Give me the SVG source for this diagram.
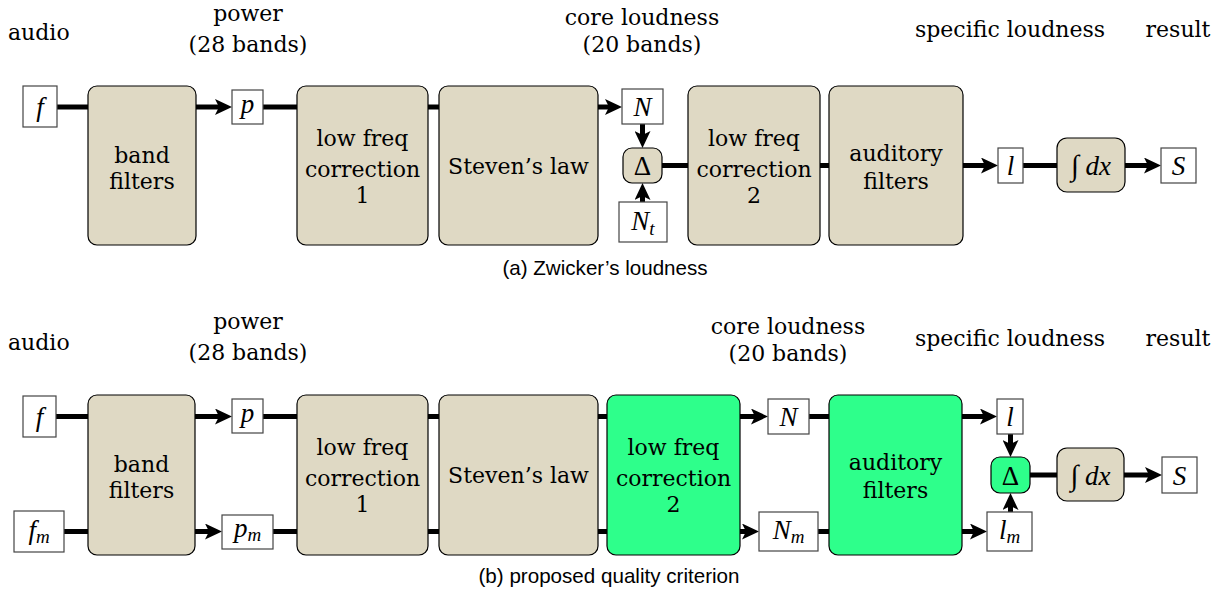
<svg xmlns="http://www.w3.org/2000/svg" width="1226" height="593" viewBox="0 0 1226 593">
<style>
.lbl{font-family:"DejaVu Serif","Liberation Serif",serif;font-size:22px;fill:#000;text-anchor:middle}
.lbll{font-family:"DejaVu Serif","Liberation Serif",serif;font-size:22px;fill:#000}
.cap{font-family:"Liberation Sans",Arial,sans-serif;font-size:20.6px;fill:#000;text-anchor:middle}
.math{font-family:"Liberation Serif","DejaVu Serif",serif;font-style:italic;font-size:27px;fill:#000;text-anchor:middle}
.up{font-style:normal}
.sub{font-size:19px}
.blk{fill:#DFD9C4;stroke:#000;stroke-width:1.2}
.grn{fill:#2EFF8B;stroke:#000;stroke-width:1.2}
.var{fill:#fff;stroke:#444;stroke-width:1.2}
.ln{stroke:#000;stroke-width:5;fill:none}
.ar{stroke:#000;stroke-width:5;fill:none;marker-end:url(#ah)}
</style>
<defs>
<marker id="ah" markerUnits="userSpaceOnUse" viewBox="0 -8 17 16" refX="9" refY="0" markerWidth="17" markerHeight="16" orient="auto">
<path d="M0,-8 L17,0 L0,8 L4,0 z" fill="#000"/>
</marker>
</defs>

<g id="labels-a">
<text class="lbll" x="8" y="40">audio</text>
<text class="lbl" x="248" y="21">power</text>
<text class="lbl" x="248" y="52">(28 bands)</text>
<text class="lbl" x="642" y="25">core loudness</text>
<text class="lbl" x="642" y="52">(20 bands)</text>
<text class="lbl" x="1010" y="37">specific loudness</text>
<text class="lbl" x="1178" y="37">result</text>
<text class="cap" x="605" y="275">(a) Zwicker’s loudness</text>
</g>
<g id="labels-b">
<text class="lbll" x="8" y="350">audio</text>
<text class="lbl" x="248" y="329">power</text>
<text class="lbl" x="248" y="360">(28 bands)</text>
<text class="lbl" x="788" y="334">core loudness</text>
<text class="lbl" x="788" y="361">(20 bands)</text>
<text class="lbl" x="1010" y="346">specific loudness</text>
<text class="lbl" x="1178" y="346">result</text>
<text class="cap" x="609" y="583">(b) proposed quality criterion</text>
</g>

<g id="connectors">
<line class="ln" x1="57" y1="107" x2="88" y2="107"/>
<line class="ar" x1="196" y1="107" x2="224" y2="107"/>
<line class="ln" x1="263" y1="107" x2="297" y2="107"/>
<line class="ln" x1="428" y1="107" x2="439" y2="107"/>
<line class="ar" x1="598" y1="107" x2="614" y2="107"/>
<line class="ar" x1="642.5" y1="124" x2="642.5" y2="140"/>
<line class="ar" x1="642.5" y1="202" x2="642.5" y2="191"/>
<line class="ln" x1="662" y1="165.5" x2="688" y2="165.5"/>
<line class="ln" x1="820" y1="165.5" x2="829" y2="165.5"/>
<line class="ar" x1="963" y1="165.5" x2="990" y2="165.5"/>
<line class="ln" x1="1023" y1="165.5" x2="1057" y2="165.5"/>
<line class="ar" x1="1125" y1="165.5" x2="1153" y2="165.5"/>
<line class="ln" x1="56" y1="416.5" x2="88" y2="416.5"/>
<line class="ln" x1="64" y1="531.5" x2="88" y2="531.5"/>
<line class="ar" x1="195" y1="416.5" x2="224" y2="416.5"/>
<line class="ar" x1="195" y1="531.5" x2="214" y2="531.5"/>
<line class="ln" x1="263" y1="416.5" x2="297" y2="416.5"/>
<line class="ln" x1="273" y1="531.5" x2="297" y2="531.5"/>
<line class="ln" x1="428" y1="416.5" x2="439" y2="416.5"/>
<line class="ln" x1="428" y1="531.5" x2="439" y2="531.5"/>
<line class="ln" x1="598" y1="416.5" x2="607" y2="416.5"/>
<line class="ln" x1="598" y1="531.5" x2="607" y2="531.5"/>
<line class="ar" x1="740" y1="416.5" x2="760" y2="416.5"/>
<line class="ar" x1="740" y1="531.5" x2="751" y2="531.5"/>
<line class="ln" x1="809" y1="416.5" x2="829" y2="416.5"/>
<line class="ln" x1="818" y1="531.5" x2="829" y2="531.5"/>
<line class="ar" x1="962" y1="416.5" x2="989" y2="416.5"/>
<line class="ar" x1="962" y1="531.5" x2="979" y2="531.5"/>
<line class="ar" x1="1010.5" y1="434" x2="1010.5" y2="449"/>
<line class="ar" x1="1010.5" y1="512" x2="1010.5" y2="501"/>
<line class="ln" x1="1030" y1="475" x2="1057" y2="475"/>
<line class="ar" x1="1124" y1="475" x2="1154" y2="475"/>
</g>

<g id="a-f"><rect class="var" x="23" y="86" width="34" height="41"/><text class="math" x="40" y="116">f</text></g>
<g id="a-band"><rect class="blk" x="88" y="86" width="108" height="159" rx="9"/><text class="lbl" x="142" y="163">band</text><text class="lbl" x="142" y="189">filters</text></g>
<g id="a-p"><rect class="var" x="232" y="90" width="31" height="34"/><text class="math" x="247.5" y="113">p</text></g>
<g id="a-lf1"><rect class="blk" x="297" y="86" width="131" height="159" rx="9"/><text class="lbl" x="362.5" y="146">low freq</text><text class="lbl" x="362.5" y="177">correction</text><text class="lbl" x="362.5" y="203">1</text></g>
<g id="a-stevens"><rect class="blk" x="439" y="86" width="159" height="159" rx="9"/><text class="lbl" x="518.5" y="174">Steven’s law</text></g>
<g id="a-N"><rect class="var" x="622" y="89" width="41" height="35"/><text class="math" x="642.5" y="116">N</text></g>
<g id="a-delta"><rect class="blk" x="623" y="148" width="39" height="35" rx="9"/><text class="math up" x="642.5" y="175" font-size="28">Δ</text></g>
<g id="a-Nt"><rect class="var" x="619" y="202" width="48" height="40"/><text class="math" x="643" y="230">N<tspan class="sub" dy="5">t</tspan></text></g>
<g id="a-lf2"><rect class="blk" x="688" y="86" width="132" height="159" rx="9"/><text class="lbl" x="754" y="146">low freq</text><text class="lbl" x="754" y="177">correction</text><text class="lbl" x="754" y="203">2</text></g>
<g id="a-aud"><rect class="blk" x="829" y="86" width="134" height="159" rx="9"/><text class="lbl" x="896" y="161">auditory</text><text class="lbl" x="896" y="189">filters</text></g>
<g id="a-l"><rect class="var" x="998" y="148" width="25" height="35"/><text class="math" x="1010.5" y="175">l</text></g>
<g id="a-int"><rect class="blk" x="1057" y="138" width="68" height="54" rx="10"/><text class="math" x="1091" y="175"><tspan class="up" font-size="29">∫</tspan> dx</text></g>
<g id="a-S"><rect class="var" x="1161" y="148" width="35" height="35"/><text class="math" x="1178.5" y="175">S</text></g>

<g id="b-f"><rect class="var" x="23" y="396" width="33" height="41"/><text class="math" x="39.5" y="426">f</text></g>
<g id="b-fm"><rect class="var" x="14" y="511" width="50" height="41"/><text class="math" x="39" y="539">f<tspan class="sub" dy="4">m</tspan></text></g>
<g id="b-band"><rect class="blk" x="88" y="395" width="107" height="160" rx="9"/><text class="lbl" x="141.5" y="472">band</text><text class="lbl" x="141.5" y="498">filters</text></g>
<g id="b-p"><rect class="var" x="232" y="399" width="31" height="34"/><text class="math" x="247.5" y="422">p</text></g>
<g id="b-pm"><rect class="var" x="222" y="515" width="51" height="34"/><text class="math" x="247.5" y="537">p<tspan class="sub" dy="4">m</tspan></text></g>
<g id="b-lf1"><rect class="blk" x="297" y="395" width="131" height="160" rx="9"/><text class="lbl" x="362.5" y="455">low freq</text><text class="lbl" x="362.5" y="486">correction</text><text class="lbl" x="362.5" y="512">1</text></g>
<g id="b-stevens"><rect class="blk" x="439" y="395" width="159" height="160" rx="9"/><text class="lbl" x="518.5" y="483">Steven’s law</text></g>
<g id="b-lf2"><rect class="grn" x="607" y="395" width="133" height="160" rx="9"/><text class="lbl" x="673.5" y="455">low freq</text><text class="lbl" x="673.5" y="486">correction</text><text class="lbl" x="673.5" y="512">2</text></g>
<g id="b-N"><rect class="var" x="768" y="399" width="41" height="35"/><text class="math" x="788.5" y="426">N</text></g>
<g id="b-Nm"><rect class="var" x="759" y="512" width="59" height="39"/><text class="math" x="788.5" y="539">N<tspan class="sub" dy="4">m</tspan></text></g>
<g id="b-aud"><rect class="grn" x="829" y="395" width="133" height="160" rx="9"/><text class="lbl" x="895.5" y="470">auditory</text><text class="lbl" x="895.5" y="498">filters</text></g>
<g id="b-l"><rect class="var" x="997" y="399" width="26" height="35"/><text class="math" x="1010" y="426">l</text></g>
<g id="b-lm"><rect class="var" x="987" y="512" width="45" height="39"/><text class="math" x="1009.5" y="539">l<tspan class="sub" dy="4">m</tspan></text></g>
<g id="b-delta"><rect class="grn" x="991" y="457" width="39" height="36" rx="9"/><text class="math up" x="1010.5" y="485" font-size="28">Δ</text></g>
<g id="b-int"><rect class="blk" x="1057" y="448" width="67" height="53" rx="10"/><text class="math" x="1090.5" y="485"><tspan class="up" font-size="29">∫</tspan> dx</text></g>
<g id="b-S"><rect class="var" x="1162" y="457" width="35" height="36"/><text class="math" x="1179.5" y="485">S</text></g>
</svg>
